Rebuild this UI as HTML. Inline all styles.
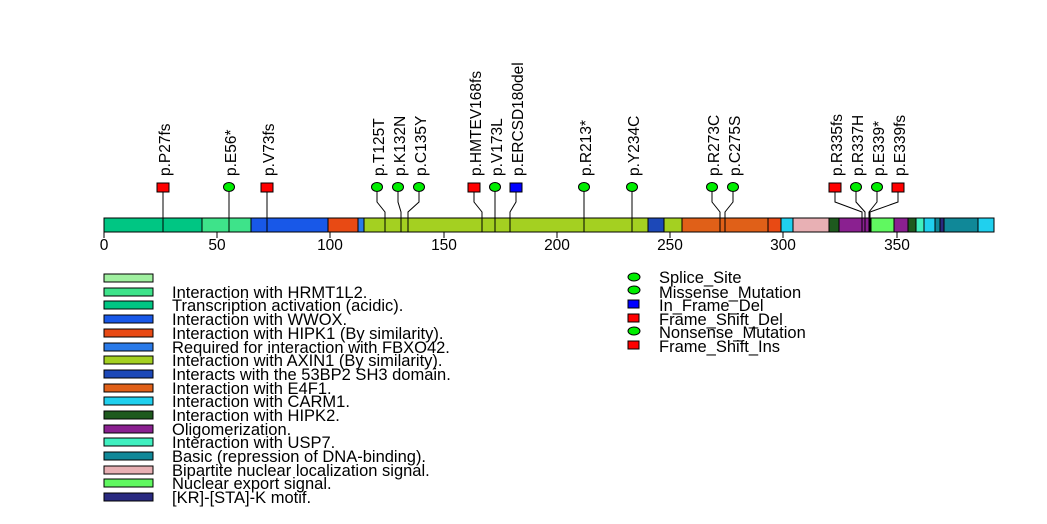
<!DOCTYPE html>
<html><head><meta charset="utf-8"><style>
html,body{margin:0;padding:0;background:#fff;}
svg{display:block;font-family:"Liberation Sans",sans-serif;}
</style></head><body>
<svg width="1047" height="524" xmlns="http://www.w3.org/2000/svg">
<rect width="1047" height="524" fill="#fff"/>
<g stroke="#000" stroke-width="1">
<rect x="104" y="218" width="98" height="14" fill="#00c683"/>
<rect x="202" y="218" width="49" height="14" fill="#3ee38a"/>
<rect x="251" y="218" width="77" height="14" fill="#1858e8"/>
<rect x="328" y="218" width="30" height="14" fill="#e84a14"/>
<rect x="358" y="218" width="6" height="14" fill="#2a7ae8"/>
<rect x="364" y="218" width="284" height="14" fill="#a4d021"/>
<rect x="648" y="218" width="16" height="14" fill="#1c48b8"/>
<rect x="664" y="218" width="18" height="14" fill="#a4d021"/>
<rect x="682" y="218" width="86" height="14" fill="#e06018"/>
<rect x="768" y="218" width="13" height="14" fill="#e84a14"/>
<rect x="781" y="218" width="12" height="14" fill="#20d0ee"/>
<rect x="793" y="218" width="36" height="14" fill="#e8b0b4"/>
<rect x="829" y="218" width="10" height="14" fill="#1e5a1e"/>
<rect x="839" y="218" width="32" height="14" fill="#8a2090"/>
<rect x="871" y="218" width="23" height="14" fill="#60f860"/>
<rect x="894" y="218" width="14" height="14" fill="#8a2090"/>
<rect x="908" y="218" width="8" height="14" fill="#1e5a1e"/>
<rect x="916" y="218" width="8" height="14" fill="#40f0c0"/>
<rect x="924" y="218" width="11" height="14" fill="#20d0ee"/>
<rect x="935" y="218" width="5" height="14" fill="#108898"/>
<rect x="940" y="218" width="4" height="14" fill="#2a2a80"/>
<rect x="944" y="218" width="34" height="14" fill="#108898"/>
<rect x="978" y="218" width="16" height="14" fill="#20d0ee"/>
<path d="M104 232V238M217 232V238M330 232V238M444 232V238M557 232V238M670 232V238M783 232V238M897 232V238" fill="none"/>
<g fill="none">
<path d="M163 192V232"/><path d="M229 192V232"/><path d="M267 192V232"/>
<path d="M377 192V202L385 212V232"/>
<path d="M398 192V202L401 212V232"/>
<path d="M419 192V202L408 212V232"/>
<path d="M474 192V202L482 212V232"/>
<path d="M495 192V232"/>
<path d="M516 192V202L510 212V232"/>
<path d="M584 192V232"/><path d="M632 192V232"/>
<path d="M712 192V202L720 212V232"/>
<path d="M733 192V202L725 212V232"/>
<path d="M835 192V202L862 212V232"/>
<path d="M856 192V202L865 212V232"/>
<path d="M877 192V202L869 212V232"/>
<path d="M898 192V202L870 212V232"/>
</g>
<rect x="157" y="183" width="12" height="9" fill="#f00"/>
<ellipse cx="229" cy="187" rx="5.5" ry="4.5" fill="#0e0"/>
<rect x="261" y="183" width="12" height="9" fill="#f00"/>
<ellipse cx="377" cy="187" rx="5.5" ry="4.5" fill="#0e0"/>
<ellipse cx="398" cy="187" rx="5.5" ry="4.5" fill="#0e0"/>
<ellipse cx="419" cy="187" rx="5.5" ry="4.5" fill="#0e0"/>
<rect x="468" y="183" width="12" height="9" fill="#f00"/>
<ellipse cx="495" cy="187" rx="5.5" ry="4.5" fill="#0e0"/>
<rect x="510" y="183" width="12" height="9" fill="#00f"/>
<ellipse cx="584" cy="187" rx="5.5" ry="4.5" fill="#0e0"/>
<ellipse cx="632" cy="187" rx="5.5" ry="4.5" fill="#0e0"/>
<ellipse cx="712" cy="187" rx="5.5" ry="4.5" fill="#0e0"/>
<ellipse cx="733" cy="187" rx="5.5" ry="4.5" fill="#0e0"/>
<rect x="829" y="183" width="12" height="9" fill="#f00"/>
<ellipse cx="856" cy="187" rx="5.5" ry="4.5" fill="#0e0"/>
<ellipse cx="877" cy="187" rx="5.5" ry="4.5" fill="#0e0"/>
<rect x="892" y="183" width="12" height="9" fill="#f00"/>
</g>
<g font-size="15.5" text-anchor="middle" fill="#000">
<text x="104" y="250">0</text><text x="217" y="250">50</text><text x="330" y="250">100</text>
<text x="444" y="250">150</text><text x="557" y="250">200</text><text x="670" y="250">250</text>
<text x="783" y="250">300</text><text x="897" y="250">350</text>
</g>
<g font-size="15.5" fill="#000">
<text transform="translate(170,176) rotate(-90)">p.P27fs</text>
<text transform="translate(236,176) rotate(-90)">p.E56*</text>
<text transform="translate(274,176) rotate(-90)">p.V73fs</text>
<text transform="translate(384,176) rotate(-90)">p.T125T</text>
<text transform="translate(405,176) rotate(-90)">p.K132N</text>
<text transform="translate(426,176) rotate(-90)">p.C135Y</text>
<text transform="translate(481,176) rotate(-90)">p.HMTEV168fs</text>
<text transform="translate(502,176) rotate(-90)">p.V173L</text>
<text transform="translate(523,176) rotate(-90)">p.ERCSD180del</text>
<text transform="translate(591,176) rotate(-90)">p.R213*</text>
<text transform="translate(639,176) rotate(-90)">p.Y234C</text>
<text transform="translate(719,176) rotate(-90)">p.R273C</text>
<text transform="translate(740,176) rotate(-90)">p.C275S</text>
<text transform="translate(842,176) rotate(-90)">p.R335fs</text>
<text transform="translate(863,176) rotate(-90)">p.R337H</text>
<text transform="translate(884,176) rotate(-90)">p.E339*</text>
<text transform="translate(905,176) rotate(-90)">p.E339fs</text>
</g>
<g stroke="#000" stroke-width="1">
<rect x="104" y="274" width="49" height="8" fill="#a0f0a0"/>
<rect x="104" y="288" width="49" height="8" fill="#3ee38a"/>
<rect x="104" y="301" width="49" height="8" fill="#00c683"/>
<rect x="104" y="315" width="49" height="8" fill="#1858e8"/>
<rect x="104" y="329" width="49" height="8" fill="#e84a14"/>
<rect x="104" y="343" width="49" height="8" fill="#2a7ae8"/>
<rect x="104" y="356" width="49" height="8" fill="#a4d021"/>
<rect x="104" y="370" width="49" height="8" fill="#1c48b8"/>
<rect x="104" y="384" width="49" height="8" fill="#e06018"/>
<rect x="104" y="397" width="49" height="8" fill="#20d0ee"/>
<rect x="104" y="411" width="49" height="8" fill="#1e5a1e"/>
<rect x="104" y="425" width="49" height="8" fill="#8a2090"/>
<rect x="104" y="438" width="49" height="8" fill="#40f0c0"/>
<rect x="104" y="452" width="49" height="8" fill="#108898"/>
<rect x="104" y="466" width="49" height="8" fill="#e8b0b4"/>
<rect x="104" y="479" width="49" height="8" fill="#60f860"/>
<rect x="104" y="493" width="49" height="8" fill="#2a2a80"/>
</g>
<g font-size="16.5" fill="#000">
<text x="172" y="298">Interaction with HRMT1L2.</text>
<text x="172" y="311">Transcription activation (acidic).</text>
<text x="172" y="325">Interaction with WWOX.</text>
<text x="172" y="339">Interaction with HIPK1 (By similarity).</text>
<text x="172" y="353">Required for interaction with FBXO42.</text>
<text x="172" y="366">Interaction with AXIN1 (By similarity).</text>
<text x="172" y="380">Interacts with the 53BP2 SH3 domain.</text>
<text x="172" y="394">Interaction with E4F1.</text>
<text x="172" y="407">Interaction with CARM1.</text>
<text x="172" y="421">Interaction with HIPK2.</text>
<text x="172" y="435">Oligomerization.</text>
<text x="172" y="448">Interaction with USP7.</text>
<text x="172" y="462">Basic (repression of DNA-binding).</text>
<text x="172" y="476">Bipartite nuclear localization signal.</text>
<text x="172" y="489">Nuclear export signal.</text>
<text x="172" y="503">[KR]-[STA]-K motif.</text>
</g>
<g stroke="#000" stroke-width="1">
<ellipse cx="634" cy="277" rx="6" ry="4" fill="#0e0"/>
<ellipse cx="634" cy="290" rx="6" ry="4" fill="#0e0"/>
<rect x="628" y="300" width="11" height="8" fill="#00f"/>
<rect x="628" y="314" width="11" height="8" fill="#f00"/>
<ellipse cx="634" cy="331" rx="6" ry="4" fill="#0e0"/>
<rect x="628" y="341" width="11" height="8" fill="#f00"/>
</g>
<g font-size="16.5" fill="#000">
<text x="659" y="283">Splice_Site</text>
<text x="659" y="298">Missense_Mutation</text>
<text x="659" y="311">In_Frame_Del</text>
<text x="659" y="325">Frame_Shift_Del</text>
<text x="659" y="338">Nonsense_Mutation</text>
<text x="659" y="352">Frame_Shift_Ins</text>
</g>
</svg>
</body></html>
